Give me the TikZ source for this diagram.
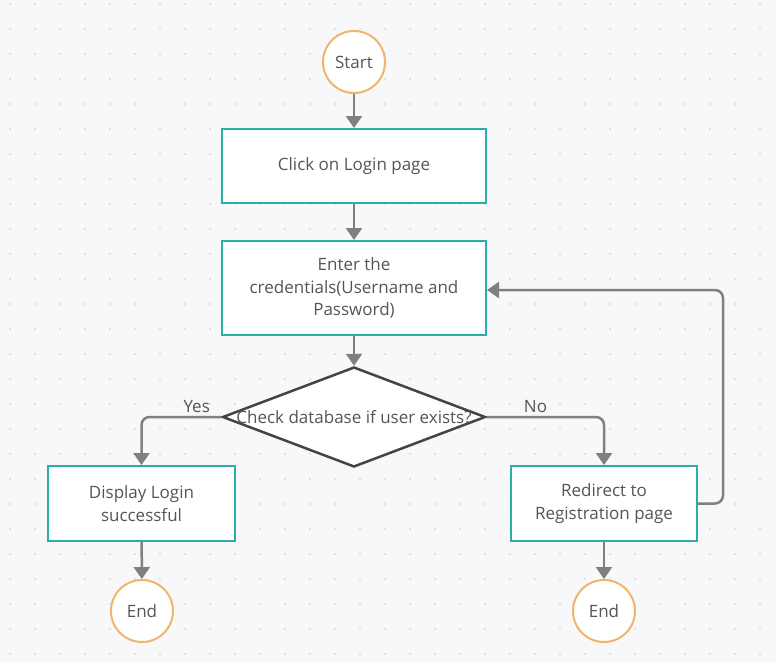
\documentclass[tikz,border=0pt]{standalone}
\usepackage{fontspec}
\setmainfont{Open Sans}
\usetikzlibrary{shapes.geometric,arrows.meta}
\definecolor{PaperGray}{RGB}{248,248,250}
\definecolor{DotGray}{RGB}{216,216,222}
\definecolor{TermOrange}{RGB}{242,180,106}
\definecolor{StepTeal}{RGB}{43,173,168}
\definecolor{EdgeGray}{RGB}{128,128,128}
\definecolor{InkGray}{RGB}{85,85,85}
\definecolor{RimDark}{RGB}{68,68,68}

\begin{document}
\begin{tikzpicture}[x=1pt,y=-1pt,
    every node/.style={font=\fontsize{17}{22.5}\selectfont, text=InkGray},
    terminal/.style={circle, draw=TermOrange, line width=2pt, fill=white, minimum size=62pt, inner sep=0pt},
    stepbox/.style={rectangle, draw=StepTeal, line width=2pt, fill=white, minimum height=74pt, align=center},
    decision/.style={diamond, draw=RimDark, line width=2.5pt, fill=white, minimum width=263pt, minimum height=100pt, inner sep=0pt},
    link/.style={draw=EdgeGray, line width=2.5pt, -{Triangle[length=12pt,width=16pt]}, rounded corners=8pt}]

    % Dotted paper
    \fill[PaperGray] (0,0) rectangle (776,662);
    \foreach \i in {0,...,30} {
      \foreach \j in {0,...,26} {
        \fill[DotGray] (10+25*\i,4+25*\j) circle (1.1pt);
      }
    }

    % Main column
    \node[terminal] (start) at (354,62) {Start};
    \node[stepbox, minimum width=264pt] (click) at (354,166) {Click on Login page};
    \node[stepbox, minimum width=264pt, minimum height=94pt] (enter) at (354,288)
      {Enter the\\credentials(Username and\\Password)};
    \node[decision, label={center:Check database if user exists?}] (check) at (354,417) {};

    % Yes branch
    \node[stepbox, minimum width=187pt, minimum height=75pt] (display) at (141.5,503.5)
      {Display Login\\successful};
    \node[terminal] (endyes) at (142,611) {End};

    % No branch
    \node[stepbox, minimum width=186pt, minimum height=75pt] (redirect) at (604,503.5)
      {Redirect to\\Registration page};
    \node[terminal] (endno) at (604,611) {End};

    % Connectors
    \draw[link] (start) -- (click);
    \draw[link] (click) -- (enter);
    \draw[link] (enter) -- (check);
    \draw[link] (check.west) -| node[pos=0.154, above] {Yes} (display.north);
    \draw[link] (check.east) -| node[pos=0.208, above] {No} (redirect.north);
    \draw[link] (display) -- (endyes);
    \draw[link] (redirect) -- (endno);
    \draw[link] (redirect.east) -- ++(25,0) |- ([yshift=-2pt]enter.east);
  \end{tikzpicture}
\end{document}
